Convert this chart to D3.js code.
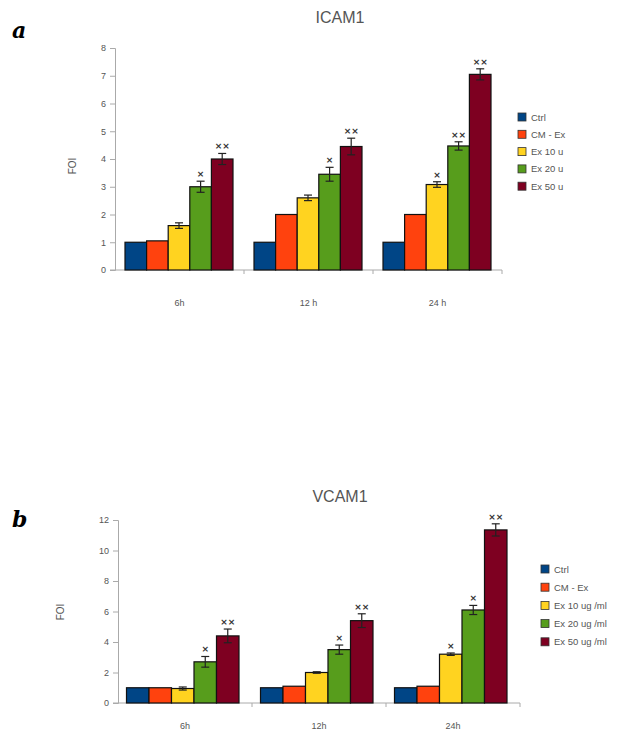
<!DOCTYPE html>
<meta charset='utf-8'>
<html>
  <head>
    <script src="https://d3js.org/d3.v7.min.js"></script>
    <style>
      body { margin: 0; background: #fff; }
      .tick text { fill: #555; }
    </style>
  </head>
  <body>
    <div id="chart"></div>
    <script>
        // time points and treatment groups
        var groupsA = ['6h', '12 h', '24 h']
        var groupsB = ['6h', '12h', '24h']
        var seriesA = ['Ctrl', 'CM - Ex', 'Ex 10 u', 'Ex 20 u', 'Ex 50 u']
        var seriesB = ['Ctrl', 'CM - Ex', 'Ex 10 ug /ml', 'Ex 20 ug /ml', 'Ex 50 ug /ml']
        var colors = ['#004586', '#ff420e', '#ffd320', '#579d1c', '#7e0021']

        // ICAM1 fold increase, one row per time point
        var icamValues = [[1, 1.05, 1.6, 3.0, 4.0], [1, 2.0, 2.6, 3.45, 4.45], [1, 2.0, 3.08, 4.47, 7.05]]
        var icamErrors = [[0, 0, 0.1, 0.2, 0.2], [0, 0, 0.1, 0.25, 0.3], [0, 0, 0.1, 0.15, 0.2]]
        var icamStars = [['', '', '', '*', '**'], ['', '', '', '*', '**'], ['', '', '*', '**', '**']]
        var icamTicks = [0, 1, 2, 3, 4, 5, 6, 7, 8]

        // VCAM1 fold increase
        var vcamValues = [[1, 1, 0.95, 2.7, 4.4], [1, 1.1, 2.0, 3.5, 5.4], [1, 1.1, 3.2, 6.1, 11.35]]
        var vcamErrors = [[0, 0, 0.1, 0.35, 0.45], [0, 0, 0.05, 0.3, 0.45], [0, 0, 0.08, 0.3, 0.4]]
        var vcamStars = [['', '', '', '*', '**'], ['', '', '', '*', '**'], ['', '', '*', '*', '**']]
        var vcamTicks = [0, 2, 4, 6, 8, 10, 12]

        var svg = d3.select('#chart').append('svg')
            .attr('width', 637)
            .attr('height', 736)

        function drawChart(c) {
            var g = svg.append('g')

            var x0 = d3.scaleBand().domain(c.groups).range([c.left, c.right])
            var x1 = d3.scaleBand().domain(c.series).range(c.inner)
            var y = d3.scaleLinear().domain([0, c.max]).range([c.bottom, c.top])

            // panel letter
            g.append('text')
                .attr('x', 12).attr('y', c.letterY)
                .style('font-family', 'DejaVu Serif, serif')
                .style('font-weight', 'bold').style('font-style', 'italic')
                .style('font-size', '22px')
                .text(c.letter)

            // title
            g.append('text')
                .attr('x', c.titleX).attr('y', c.titleY)
                .attr('text-anchor', 'middle')
                .style('font-family', 'Liberation Sans, sans-serif')
                .style('font-size', '16px').style('fill', '#555')
                .text(c.title)

            // y axis
            var yAxis = d3.axisLeft(y).tickValues(c.ticks).tickSize(5).tickPadding(4)
            var ya = g.append('g')
                .attr('transform', 'translate(' + c.left + ',0)')
                .call(yAxis)
            ya.selectAll('path, line').attr('stroke', '#aaa')
            ya.selectAll('text').style('font-size', '9px').style('font-family', 'Liberation Sans, sans-serif')

            g.append('text')
                .attr('transform', 'translate(' + c.labelX + ',' + c.labelY + ') rotate(-90)')
                .attr('text-anchor', 'middle')
                .style('font-family', 'Liberation Sans, sans-serif')
                .style('font-size', '10px').style('fill', '#555')
                .text('FOI')

            // x axis line with ticks at group boundaries
            g.append('line')
                .attr('x1', c.left - 5).attr('x2', c.right)
                .attr('y1', c.bottom).attr('y2', c.bottom)
                .attr('stroke', '#aaa')
            g.selectAll('.gtick')
                .data(c.groups)
                .enter().append('line')
                .attr('x1', function (d) { return x0(d) + x0.bandwidth() })
                .attr('x2', function (d) { return x0(d) + x0.bandwidth() })
                .attr('y1', c.bottom).attr('y2', c.bottom + 4)
                .attr('stroke', '#aaa')
            g.selectAll('.glabel')
                .data(c.groups)
                .enter().append('text')
                .attr('x', function (d) { return x0(d) + x0.bandwidth() / 2 })
                .attr('y', c.bottom + c.groupLabelDy)
                .attr('text-anchor', 'middle')
                .style('font-family', 'Liberation Sans, sans-serif')
                .style('font-size', '9px').style('fill', '#555')
                .text(function (d) { return d })

            // bars
            var groupG = g.selectAll('.grp')
                .data(c.groups)
                .enter().append('g')
                .attr('transform', function (d) { return 'translate(' + x0(d) + ',0)' })

            groupG.each(function (gname, gi) {
                var rows = c.series.map(function (s, si) {
                    return { s: s, si: si, v: c.values[gi][si], e: c.errors[gi][si], star: c.stars[gi][si] }
                })
                var sel = d3.select(this)
                sel.selectAll('rect')
                    .data(rows)
                    .enter().append('rect')
                    .attr('x', function (d) { return x1(d.s) })
                    .attr('y', function (d) { return y(d.v) })
                    .attr('width', x1.bandwidth())
                    .attr('height', function (d) { return c.bottom - y(d.v) })
                    .attr('fill', function (d) { return colors[d.si] })
                    .attr('stroke', '#111')
                    .attr('stroke-width', 1.2)

                var err = rows.filter(function (d) { return d.e > 0 })
                var cx = function (d) { return x1(d.s) + x1.bandwidth() / 2 }
                sel.selectAll('.ev')
                    .data(err).enter().append('line')
                    .attr('x1', cx).attr('x2', cx)
                    .attr('y1', function (d) { return y(d.v - d.e) })
                    .attr('y2', function (d) { return y(d.v + d.e) })
                    .attr('stroke', '#222').attr('stroke-width', 1.2)
                ;['top', 'bot'].forEach(function (k) {
                    sel.selectAll('.ec' + k)
                        .data(err).enter().append('line')
                        .attr('x1', function (d) { return cx(d) - 4 })
                        .attr('x2', function (d) { return cx(d) + 4 })
                        .attr('y1', function (d) { return y(k == 'top' ? d.v + d.e : d.v - d.e) })
                        .attr('y2', function (d) { return y(k == 'top' ? d.v + d.e : d.v - d.e) })
                        .attr('stroke', '#222').attr('stroke-width', 1.2)
                })

                sel.selectAll('.star')
                    .data(rows.filter(function (d) { return d.star })).enter().append('text')
                    .attr('x', cx)
                    .attr('y', function (d) { return y(d.v + d.e) - 4 })
                    .attr('text-anchor', 'middle')
                    .style('font-family', 'DejaVu Sans, sans-serif')
                    .style('font-size', '9px').style('font-weight', 'bold').style('fill', '#333')
                    .text(function (d) { return d.star == '**' ? '\u00d7\u00d7' : '\u00d7' })
            })

            // legend
            var lg = g.selectAll('.leg')
                .data(c.series)
                .enter().append('g')
                .attr('transform', function (d, i) { return 'translate(' + c.legX + ',' + (c.legY + i * c.legStep) + ')' })
            lg.append('rect')
                .attr('x', -4).attr('y', -4).attr('width', 8).attr('height', 8)
                .attr('fill', function (d, i) { return colors[i] })
                .attr('stroke', '#333').attr('stroke-width', 0.8)
            lg.append('text')
                .attr('x', 9).attr('y', 3.5)
                .style('font-family', 'Liberation Sans, sans-serif')
                .style('font-size', '9.5px').style('fill', '#555')
                .text(function (d) { return d })
        }

        drawChart({
            letter: 'a', letterY: 38, title: 'ICAM1', titleX: 340, titleY: 23,
            groups: groupsA, series: seriesA, values: icamValues, errors: icamErrors, stars: icamStars,
            ticks: icamTicks, max: 8, left: 115, right: 502, top: 48, bottom: 270, inner: [10, 118],
            labelX: 76, labelY: 166, legX: 522, legY: 117, legStep: 17.3, groupLabelDy: 36
        })

        drawChart({
            letter: 'b', letterY: 527, title: 'VCAM1', titleX: 340, titleY: 502,
            groups: groupsB, series: seriesB, values: vcamValues, errors: vcamErrors, stars: vcamStars,
            ticks: vcamTicks, max: 12, left: 118, right: 520, top: 520, bottom: 703, inner: [8.5, 121],
            labelX: 64, labelY: 612, legX: 545, legY: 569, legStep: 18.2, groupLabelDy: 26
        })
    </script>
  </body>
</html>
